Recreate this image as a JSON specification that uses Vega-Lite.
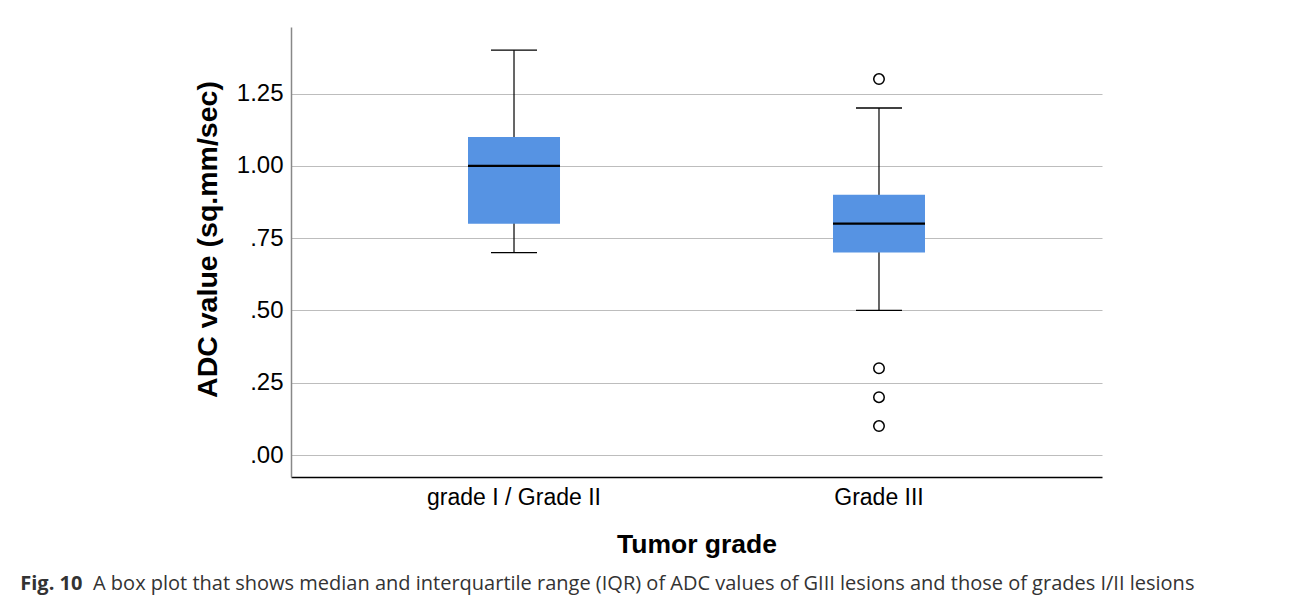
{
  "$schema": "https://vega.github.io/schema/vega-lite/v6.json",
  "width": 811,
  "height": 450,
  "padding": {"left": 20, "top": 27, "right": 100, "bottom": 5},
  "background": "white",
  "config": {"view": {"stroke": null}, "font": "Liberation Sans"},
  "title": {
    "text": "Fig. 10",
    "subtitle": "\u200b\u00a0\u00a0\u00a0\u00a0\u00a0\u00a0\u00a0\u00a0\u00a0\u00a0\u00a0\u00a0\u00a0\u00a0A box plot that shows median and interquartile range (IQR) of ADC values of GIII lesions and those of grades I/II lesions",
    "orient": "bottom",
    "anchor": "start",
    "frame": "bounds",
    "font": "Open Sans",
    "fontSize": 20,
    "fontWeight": "bold",
    "color": "#333333",
    "subtitleFont": "Open Sans",
    "subtitleFontSize": 20,
    "subtitleColor": "#333333",
    "subtitlePadding": -20,
    "offset": 16,
    "dx": -173
  },
  "datasets": {
    "boxes": [
      {"grade": "grade I / Grade II", "lower": 0.70, "q1": 0.80, "median": 1.00, "q3": 1.10, "upper": 1.40},
      {"grade": "Grade III", "lower": 0.50, "q1": 0.70, "median": 0.80, "q3": 0.90, "upper": 1.20}
    ],
    "outliers": [
      {"grade": "Grade III", "value": 1.30},
      {"grade": "Grade III", "value": 0.30},
      {"grade": "Grade III", "value": 0.20},
      {"grade": "Grade III", "value": 0.10}
    ]
  },
  "layer": [
    {
      "data": {"name": "boxes"},
      "mark": {"type": "rule", "color": "black", "strokeWidth": 1.2},
      "encoding": {
        "x": {
          "field": "grade", "type": "nominal",
          "sort": ["grade I / Grade II", "Grade III"],
          "scale": {"paddingInner": 0, "paddingOuter": 0.111},
          "axis": {
            "title": "Tumor grade", "labelAngle": 0, "ticks": false,
            "labelFontSize": 23, "labelColor": "black", "labelPadding": 9,
            "titleFontSize": 26.5, "titleFontWeight": "bold", "titleColor": "black", "titlePadding": 22,
            "domainColor": "black", "domainWidth": 1.5
          }
        },
        "y": {
          "field": "lower", "type": "quantitative",
          "scale": {"domain": [-0.076, 1.48], "nice": false, "zero": false},
          "axis": {
            "title": "ADC value (sq.mm/sec)",
            "values": [0, 0.25, 0.5, 0.75, 1.0, 1.25],
            "format": ".2f",
            "labelExpr": "datum.value < 1 ? replace(datum.label, '0.', '.') : datum.label",
            "ticks": false, "labelFontSize": 24, "labelColor": "black", "labelPadding": 8,
            "titleFontSize": 28.5, "titleFontWeight": "bold", "titleColor": "black", "titlePadding": 14,
            "titleY": 212,
            "domainColor": "#888888", "domainWidth": 1.5,
            "grid": true, "gridColor": "#bdbdbd", "gridWidth": 1.2
          }
        },
        "y2": {"field": "upper"}
      }
    },
    {
      "data": {"name": "boxes"},
      "mark": {"type": "bar", "width": 92, "color": "#5693E3"},
      "encoding": {
        "x": {"field": "grade", "type": "nominal", "sort": ["grade I / Grade II", "Grade III"]},
        "y": {"field": "q1", "type": "quantitative"},
        "y2": {"field": "q3"}
      }
    },
    {
      "data": {"name": "boxes"},
      "mark": {"type": "tick", "size": 92, "thickness": 2.2, "color": "black", "opacity": 1},
      "encoding": {
        "x": {"field": "grade", "type": "nominal", "sort": ["grade I / Grade II", "Grade III"]},
        "y": {"field": "median", "type": "quantitative"}
      }
    },
    {
      "data": {"name": "boxes"},
      "mark": {"type": "tick", "size": 46, "thickness": 1.3, "color": "black", "opacity": 1},
      "encoding": {
        "x": {"field": "grade", "type": "nominal", "sort": ["grade I / Grade II", "Grade III"]},
        "y": {"field": "upper", "type": "quantitative"}
      }
    },
    {
      "data": {"name": "boxes"},
      "mark": {"type": "tick", "size": 46, "thickness": 1.3, "color": "black", "opacity": 1},
      "encoding": {
        "x": {"field": "grade", "type": "nominal", "sort": ["grade I / Grade II", "Grade III"]},
        "y": {"field": "lower", "type": "quantitative"}
      }
    },
    {
      "data": {"name": "outliers"},
      "mark": {"type": "point", "shape": "circle", "filled": false, "size": 110, "stroke": "black", "strokeWidth": 1.5, "opacity": 1},
      "encoding": {
        "x": {"field": "grade", "type": "nominal", "sort": ["grade I / Grade II", "Grade III"]},
        "y": {"field": "value", "type": "quantitative"}
      }
    }
  ]
}
